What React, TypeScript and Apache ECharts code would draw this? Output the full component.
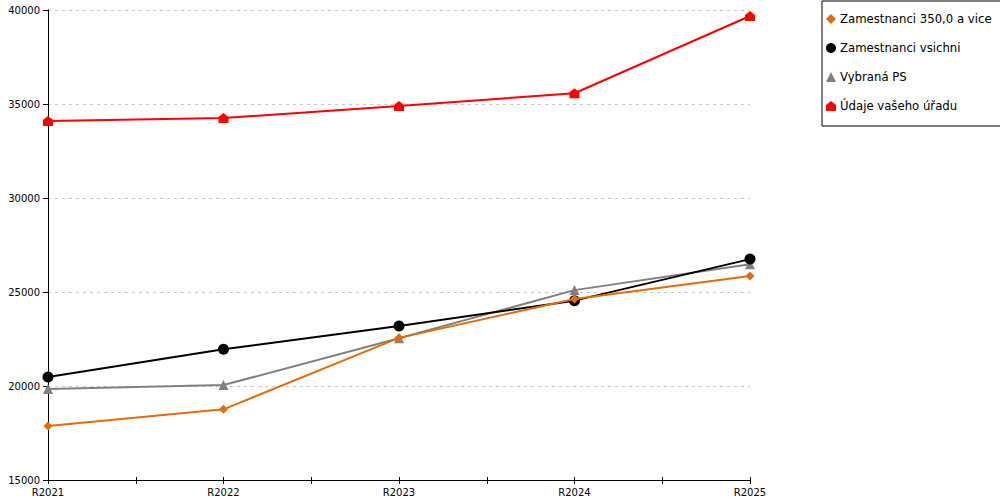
import React, { useEffect, useRef } from "react";
import * as echarts from "echarts";

const categories = ["R2021", "R2022", "R2023", "R2024", "R2025"];
const seriesNames = [
  "Zamestnanci 350,0 a vice",
  "Zamestnanci vsichni",
  "Vybraná PS",
  "Údaje vašeho úřadu",
];
const orangeValues = [17870, 18760, 22560, 24630, 25850];
const blackValues = [20480, 21950, 23190, 24540, 26750];
const grayValues = [19840, 20050, 22540, 25100, 26470];
const redValues = [34100, 34250, 34900, 35570, 39680];
const yTicks = [15000, 20000, 25000, 30000, 35000, 40000];

const HOUSE = "path://M5,0 L10,4 L10,10 L0,10 L0,4 Z";
const FONT = "DejaVu Sans";

export default function App() {
  const ref = useRef<HTMLDivElement>(null);
  useEffect(() => {
    if (!ref.current) return;
    const chart = echarts.init(ref.current, undefined, { renderer: "svg" });
    const toData = (vals: number[]) => vals.map((v, i) => [i, v]);
    const colors = ["#E36C0A", "#000000", "#808080", "#FF0000"];
    const symbols = ["diamond", "circle", "triangle", HOUSE];
    const values = [orangeValues, blackValues, grayValues, redValues];
    chart.setOption({
      animation: false,
      textStyle: { fontFamily: FONT },
      grid: { left: 48, right: 250, top: 10, bottom: 20, containLabel: false },
      legend: {
        orient: "vertical",
        left: 822,
        top: 1,
        width: 176,
        padding: [12, 10, 14, 4],
        itemGap: 17,
        itemWidth: 10,
        itemHeight: 10,
        borderColor: "#000",
        borderWidth: 1,
        textStyle: { fontFamily: FONT, fontSize: 11.7, color: "#000", padding: [0, 0, 0, -1] },
        data: seriesNames.map((n, i) => ({ name: n, icon: symbols[i] })),
      },
      xAxis: [
        {
          type: "value",
          min: 0,
          max: categories.length - 1,
          interval: 0.5,
          axisLine: { show: true, lineStyle: { color: "#000", width: 1 } },
          axisTick: { show: true, length: 4, lineStyle: { color: "#000" } },
          splitLine: { show: false },
          axisLabel: {
            color: "#000",
            fontFamily: FONT,
            fontSize: 10,
            margin: 7,
            showMinLabel: true,
            showMaxLabel: true,
            formatter: (v: number) =>
              Number.isInteger(v) ? categories[v] : "",
          },
        },
        {
          type: "value",
          position: "bottom",
          min: 0,
          max: categories.length - 1,
          interval: 0.5,
          axisLine: { show: false },
          axisTick: { show: true, inside: true, length: 3, lineStyle: { color: "#000" } },
          splitLine: { show: false },
          axisLabel: { show: false },
        },
      ],
      yAxis: [
        {
          type: "value",
          min: yTicks[0],
          max: yTicks[yTicks.length - 1],
          interval: 5000,
          axisLine: { show: true, lineStyle: { color: "#000", width: 1 } },
          axisTick: { show: true, length: 5, lineStyle: { color: "#000" } },
          splitLine: {
            show: true,
            lineStyle: { color: "#c8c8c8", type: [3, 4], width: 1 },
          },
          axisLabel: {
            color: "#000",
            fontFamily: FONT,
            fontSize: 10,
            margin: 8,
            formatter: (v: number) => String(v),
          },
        },
        {
          type: "value",
          position: "right",
          min: yTicks[0],
          max: yTicks[yTicks.length - 1],
          interval: 5000,
          axisLine: { show: true, lineStyle: { color: "#000", width: 1 } },
          axisTick: { show: false },
          splitLine: { show: false },
          axisLabel: { show: false },
        },
      ],
      series: seriesNames.map((name, i) => ({
        name,
        type: "line",
        data: toData(values[i]),
        symbol: symbols[i],
        symbolSize: i === 0 ? 9 : i === 1 ? 11 : 10,
        showAllSymbol: true,
        z: 10 - i,
        lineStyle: { color: colors[i], width: 2 },
        itemStyle: { color: colors[i] },
      })),
    });
    return () => chart.dispose();
  }, []);
  return (
    <div
      ref={ref}
      style={{ position: "absolute", left: 0, top: 0, width: 1000, height: 500 }}
    />
  );
}
